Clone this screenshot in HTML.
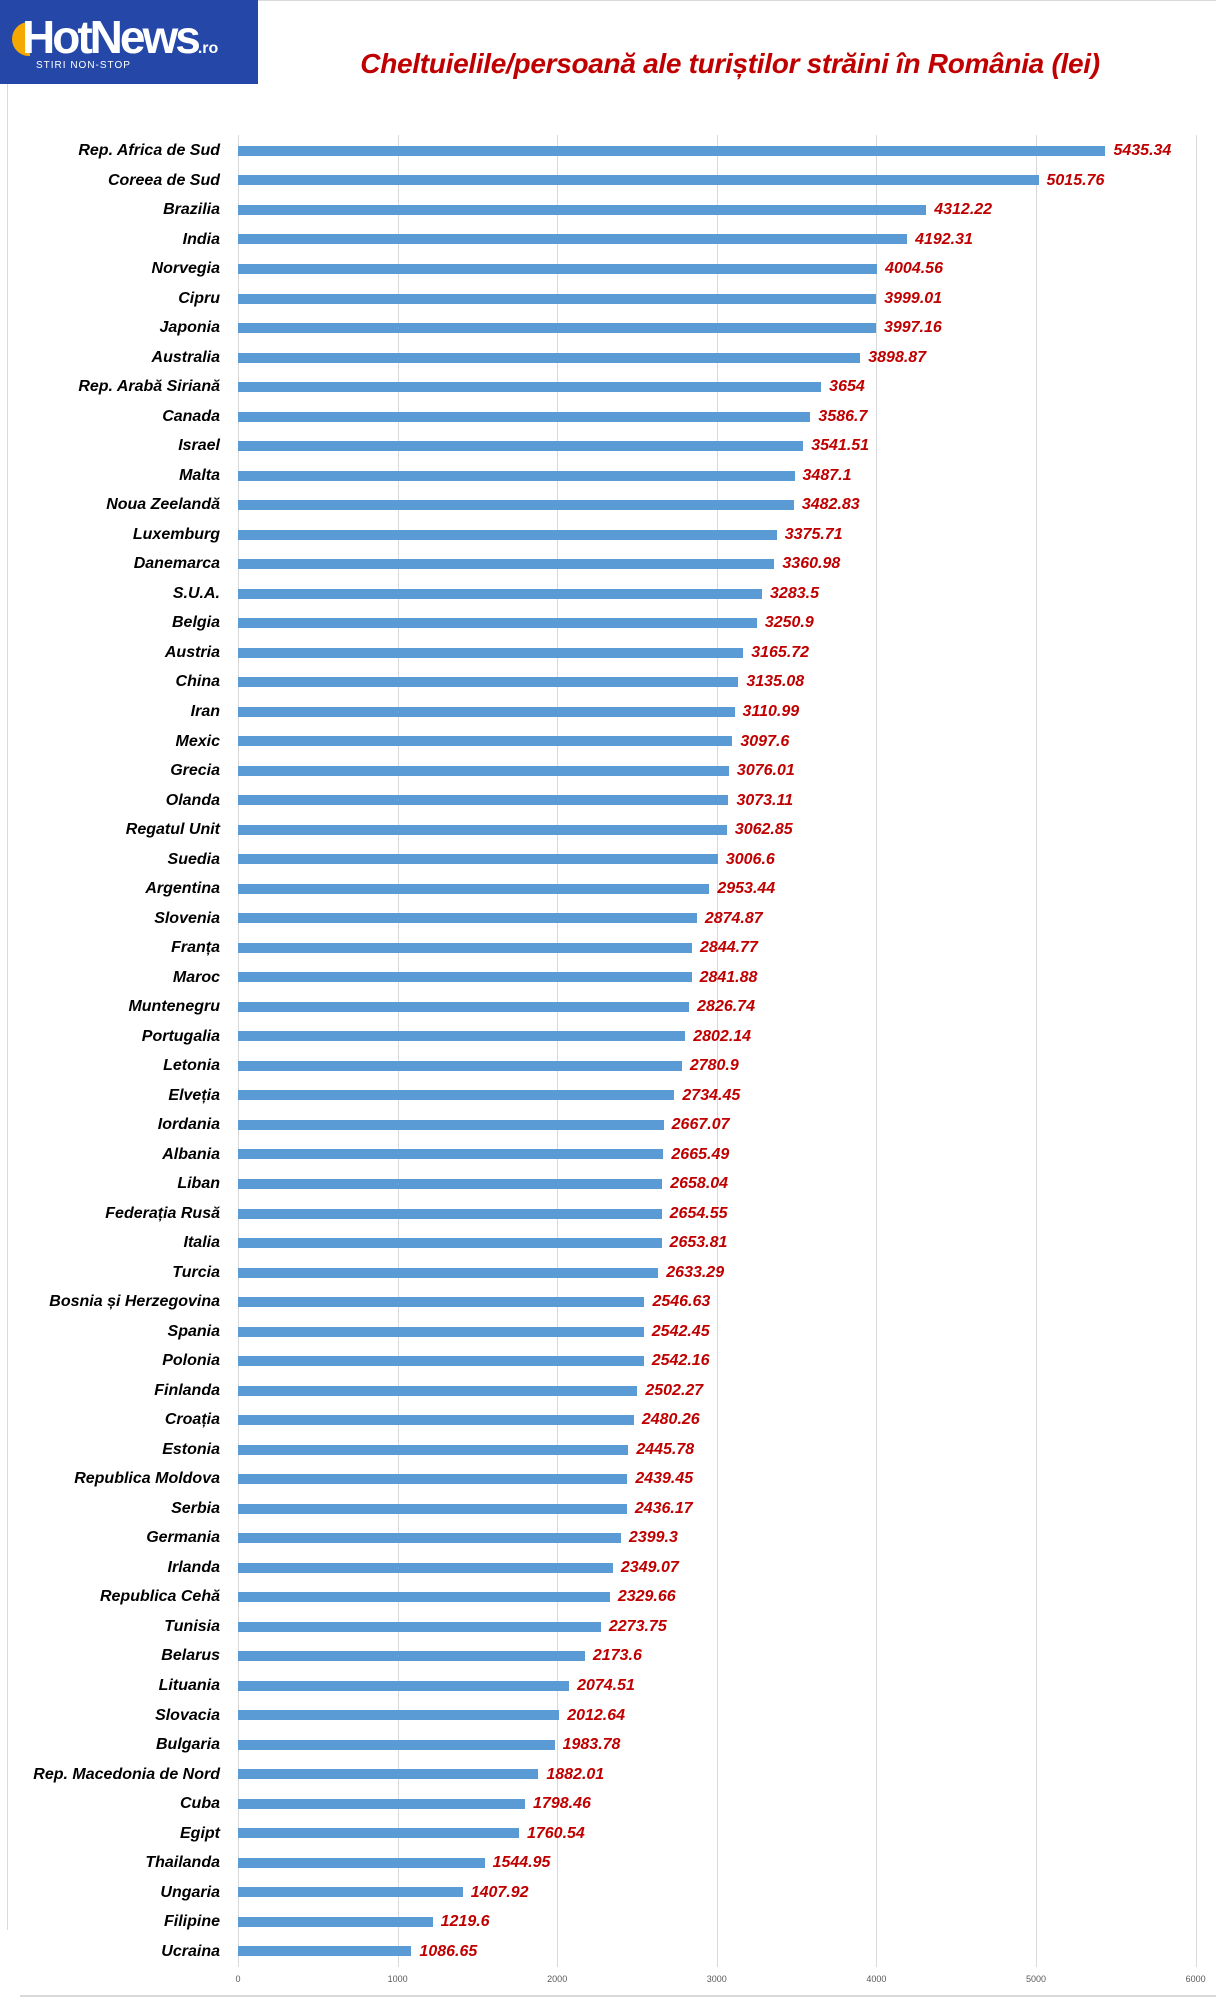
<!DOCTYPE html>
<html><head><meta charset="utf-8"><style>
body{margin:0;width:1216px;height:2016px;background:#fff;position:relative;overflow:hidden;font-family:"Liberation Sans",sans-serif}
.logo{position:absolute;left:0;top:0;width:258px;height:84px;background:#2447a8}
.logo .t{position:absolute;left:22px;top:10px;color:#fff;font-size:46px;font-weight:bold;letter-spacing:-3px;font-family:"Liberation Sans Narrow","Liberation Sans",sans-serif}
.logo .t small{font-size:16px;letter-spacing:0}
.logo .s{position:absolute;left:36px;top:60px;color:#fff;font-size:10px;letter-spacing:1px}
.logo .sun{position:absolute;left:12px;top:22px;width:18px;height:34px;border-radius:17px 0 0 17px;background:#f5a800}
.title{position:absolute;left:330px;top:48px;width:800px;text-align:center;color:#c00000;font-size:28px;font-weight:bold;font-style:italic;white-space:nowrap;letter-spacing:-0.3px}
.grid{position:absolute;top:135px;height:1832px;width:1px;background:#d9d9d9}
.tick{position:absolute;top:1974px;font-size:9px;color:#595959;width:40px;margin-left:-20px;text-align:center}
#rows{position:absolute;left:0;top:136.2px;width:1216px}
.r{position:relative;height:29.52px}
.l{position:absolute;left:0;width:220px;text-align:right;line-height:29.52px;font-size:16px;font-weight:bold;font-style:italic;color:#000;white-space:nowrap}
.b{position:absolute;left:238px;top:9.76px;height:10px;background:#5b9bd5}
.v{position:absolute;left:100%;margin-left:8px;top:-9.76px;line-height:29.52px;font-size:16px;font-weight:bold;font-style:italic;color:#c00000;white-space:nowrap}
</style></head><body>
<div class="logo"><div class="sun"></div><div class="t">HotNews<small>.ro</small></div><div class="s">STIRI NON-STOP</div></div>
<div class="title">Cheltuielile/persoană ale turiștilor străini în România (lei)</div>
<div style="position:absolute;left:258px;top:0;width:958px;height:1px;background:#d9d9d9"></div>
<div style="position:absolute;left:7px;top:84px;width:1px;height:1846px;background:#d9d9d9"></div>
<div style="position:absolute;left:20px;top:1995px;width:1196px;height:2px;background:#d9d9d9"></div>
<div class="grid" style="left:238px"></div><div class="grid" style="left:397.6px"></div><div class="grid" style="left:557.2px"></div><div class="grid" style="left:716.8px"></div><div class="grid" style="left:876.4px"></div><div class="grid" style="left:1036px"></div><div class="grid" style="left:1195.6px"></div>
<div class="tick" style="left:238px">0</div><div class="tick" style="left:397.6px">1000</div><div class="tick" style="left:557.2px">2000</div><div class="tick" style="left:716.8px">3000</div><div class="tick" style="left:876.4px">4000</div><div class="tick" style="left:1036px">5000</div><div class="tick" style="left:1195.6px">6000</div>
<div id="rows">
<div class="r"><div class="l">Rep. Africa de Sud</div><div class="b" style="width:calc(5435.34px*0.1596)"><span class="v">5435.34</span></div></div>
<div class="r"><div class="l">Coreea de Sud</div><div class="b" style="width:calc(5015.76px*0.1596)"><span class="v">5015.76</span></div></div>
<div class="r"><div class="l">Brazilia</div><div class="b" style="width:calc(4312.22px*0.1596)"><span class="v">4312.22</span></div></div>
<div class="r"><div class="l">India</div><div class="b" style="width:calc(4192.31px*0.1596)"><span class="v">4192.31</span></div></div>
<div class="r"><div class="l">Norvegia</div><div class="b" style="width:calc(4004.56px*0.1596)"><span class="v">4004.56</span></div></div>
<div class="r"><div class="l">Cipru</div><div class="b" style="width:calc(3999.01px*0.1596)"><span class="v">3999.01</span></div></div>
<div class="r"><div class="l">Japonia</div><div class="b" style="width:calc(3997.16px*0.1596)"><span class="v">3997.16</span></div></div>
<div class="r"><div class="l">Australia</div><div class="b" style="width:calc(3898.87px*0.1596)"><span class="v">3898.87</span></div></div>
<div class="r"><div class="l">Rep. Arabă Siriană</div><div class="b" style="width:calc(3654px*0.1596)"><span class="v">3654</span></div></div>
<div class="r"><div class="l">Canada</div><div class="b" style="width:calc(3586.7px*0.1596)"><span class="v">3586.7</span></div></div>
<div class="r"><div class="l">Israel</div><div class="b" style="width:calc(3541.51px*0.1596)"><span class="v">3541.51</span></div></div>
<div class="r"><div class="l">Malta</div><div class="b" style="width:calc(3487.1px*0.1596)"><span class="v">3487.1</span></div></div>
<div class="r"><div class="l">Noua Zeelandă</div><div class="b" style="width:calc(3482.83px*0.1596)"><span class="v">3482.83</span></div></div>
<div class="r"><div class="l">Luxemburg</div><div class="b" style="width:calc(3375.71px*0.1596)"><span class="v">3375.71</span></div></div>
<div class="r"><div class="l">Danemarca</div><div class="b" style="width:calc(3360.98px*0.1596)"><span class="v">3360.98</span></div></div>
<div class="r"><div class="l">S.U.A.</div><div class="b" style="width:calc(3283.5px*0.1596)"><span class="v">3283.5</span></div></div>
<div class="r"><div class="l">Belgia</div><div class="b" style="width:calc(3250.9px*0.1596)"><span class="v">3250.9</span></div></div>
<div class="r"><div class="l">Austria</div><div class="b" style="width:calc(3165.72px*0.1596)"><span class="v">3165.72</span></div></div>
<div class="r"><div class="l">China</div><div class="b" style="width:calc(3135.08px*0.1596)"><span class="v">3135.08</span></div></div>
<div class="r"><div class="l">Iran</div><div class="b" style="width:calc(3110.99px*0.1596)"><span class="v">3110.99</span></div></div>
<div class="r"><div class="l">Mexic</div><div class="b" style="width:calc(3097.6px*0.1596)"><span class="v">3097.6</span></div></div>
<div class="r"><div class="l">Grecia</div><div class="b" style="width:calc(3076.01px*0.1596)"><span class="v">3076.01</span></div></div>
<div class="r"><div class="l">Olanda</div><div class="b" style="width:calc(3073.11px*0.1596)"><span class="v">3073.11</span></div></div>
<div class="r"><div class="l">Regatul Unit</div><div class="b" style="width:calc(3062.85px*0.1596)"><span class="v">3062.85</span></div></div>
<div class="r"><div class="l">Suedia</div><div class="b" style="width:calc(3006.6px*0.1596)"><span class="v">3006.6</span></div></div>
<div class="r"><div class="l">Argentina</div><div class="b" style="width:calc(2953.44px*0.1596)"><span class="v">2953.44</span></div></div>
<div class="r"><div class="l">Slovenia</div><div class="b" style="width:calc(2874.87px*0.1596)"><span class="v">2874.87</span></div></div>
<div class="r"><div class="l">Franța</div><div class="b" style="width:calc(2844.77px*0.1596)"><span class="v">2844.77</span></div></div>
<div class="r"><div class="l">Maroc</div><div class="b" style="width:calc(2841.88px*0.1596)"><span class="v">2841.88</span></div></div>
<div class="r"><div class="l">Muntenegru</div><div class="b" style="width:calc(2826.74px*0.1596)"><span class="v">2826.74</span></div></div>
<div class="r"><div class="l">Portugalia</div><div class="b" style="width:calc(2802.14px*0.1596)"><span class="v">2802.14</span></div></div>
<div class="r"><div class="l">Letonia</div><div class="b" style="width:calc(2780.9px*0.1596)"><span class="v">2780.9</span></div></div>
<div class="r"><div class="l">Elveția</div><div class="b" style="width:calc(2734.45px*0.1596)"><span class="v">2734.45</span></div></div>
<div class="r"><div class="l">Iordania</div><div class="b" style="width:calc(2667.07px*0.1596)"><span class="v">2667.07</span></div></div>
<div class="r"><div class="l">Albania</div><div class="b" style="width:calc(2665.49px*0.1596)"><span class="v">2665.49</span></div></div>
<div class="r"><div class="l">Liban</div><div class="b" style="width:calc(2658.04px*0.1596)"><span class="v">2658.04</span></div></div>
<div class="r"><div class="l">Federația Rusă</div><div class="b" style="width:calc(2654.55px*0.1596)"><span class="v">2654.55</span></div></div>
<div class="r"><div class="l">Italia</div><div class="b" style="width:calc(2653.81px*0.1596)"><span class="v">2653.81</span></div></div>
<div class="r"><div class="l">Turcia</div><div class="b" style="width:calc(2633.29px*0.1596)"><span class="v">2633.29</span></div></div>
<div class="r"><div class="l">Bosnia și Herzegovina</div><div class="b" style="width:calc(2546.63px*0.1596)"><span class="v">2546.63</span></div></div>
<div class="r"><div class="l">Spania</div><div class="b" style="width:calc(2542.45px*0.1596)"><span class="v">2542.45</span></div></div>
<div class="r"><div class="l">Polonia</div><div class="b" style="width:calc(2542.16px*0.1596)"><span class="v">2542.16</span></div></div>
<div class="r"><div class="l">Finlanda</div><div class="b" style="width:calc(2502.27px*0.1596)"><span class="v">2502.27</span></div></div>
<div class="r"><div class="l">Croația</div><div class="b" style="width:calc(2480.26px*0.1596)"><span class="v">2480.26</span></div></div>
<div class="r"><div class="l">Estonia</div><div class="b" style="width:calc(2445.78px*0.1596)"><span class="v">2445.78</span></div></div>
<div class="r"><div class="l">Republica Moldova</div><div class="b" style="width:calc(2439.45px*0.1596)"><span class="v">2439.45</span></div></div>
<div class="r"><div class="l">Serbia</div><div class="b" style="width:calc(2436.17px*0.1596)"><span class="v">2436.17</span></div></div>
<div class="r"><div class="l">Germania</div><div class="b" style="width:calc(2399.3px*0.1596)"><span class="v">2399.3</span></div></div>
<div class="r"><div class="l">Irlanda</div><div class="b" style="width:calc(2349.07px*0.1596)"><span class="v">2349.07</span></div></div>
<div class="r"><div class="l">Republica Cehă</div><div class="b" style="width:calc(2329.66px*0.1596)"><span class="v">2329.66</span></div></div>
<div class="r"><div class="l">Tunisia</div><div class="b" style="width:calc(2273.75px*0.1596)"><span class="v">2273.75</span></div></div>
<div class="r"><div class="l">Belarus</div><div class="b" style="width:calc(2173.6px*0.1596)"><span class="v">2173.6</span></div></div>
<div class="r"><div class="l">Lituania</div><div class="b" style="width:calc(2074.51px*0.1596)"><span class="v">2074.51</span></div></div>
<div class="r"><div class="l">Slovacia</div><div class="b" style="width:calc(2012.64px*0.1596)"><span class="v">2012.64</span></div></div>
<div class="r"><div class="l">Bulgaria</div><div class="b" style="width:calc(1983.78px*0.1596)"><span class="v">1983.78</span></div></div>
<div class="r"><div class="l">Rep. Macedonia de Nord</div><div class="b" style="width:calc(1882.01px*0.1596)"><span class="v">1882.01</span></div></div>
<div class="r"><div class="l">Cuba</div><div class="b" style="width:calc(1798.46px*0.1596)"><span class="v">1798.46</span></div></div>
<div class="r"><div class="l">Egipt</div><div class="b" style="width:calc(1760.54px*0.1596)"><span class="v">1760.54</span></div></div>
<div class="r"><div class="l">Thailanda</div><div class="b" style="width:calc(1544.95px*0.1596)"><span class="v">1544.95</span></div></div>
<div class="r"><div class="l">Ungaria</div><div class="b" style="width:calc(1407.92px*0.1596)"><span class="v">1407.92</span></div></div>
<div class="r"><div class="l">Filipine</div><div class="b" style="width:calc(1219.6px*0.1596)"><span class="v">1219.6</span></div></div>
<div class="r"><div class="l">Ucraina</div><div class="b" style="width:calc(1086.65px*0.1596)"><span class="v">1086.65</span></div></div>
</div>
</body></html>
